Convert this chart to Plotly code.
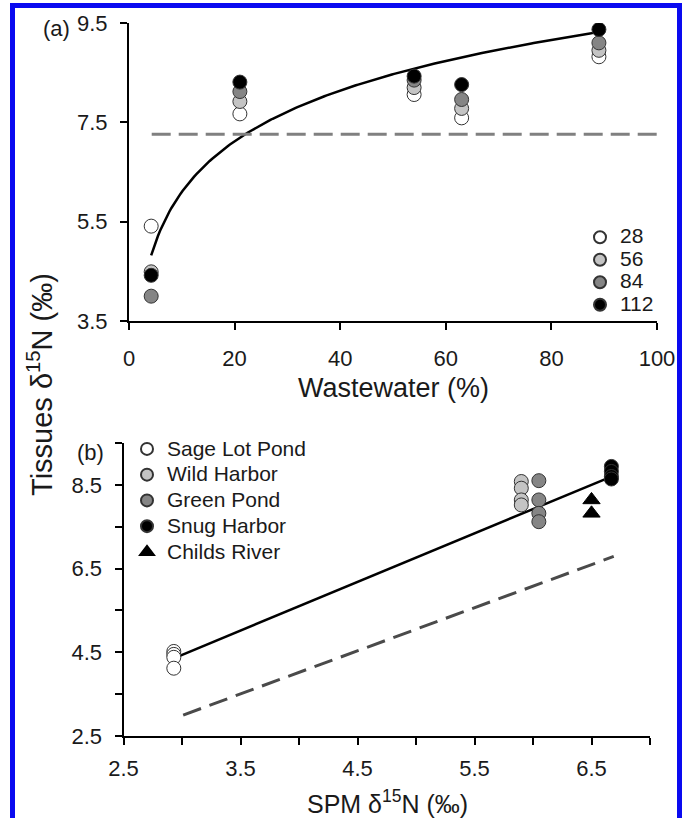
import numpy as np
import plotly.graph_objects as go

W, H = 688, 818

# ---------------- Panel (a) data ----------------
wastewater = [4.2, 21, 54, 63, 89]
day_labels = ["28", "56", "84", "112"]
d28 = [5.41, 7.67, 8.06, 7.59, 8.82]
d56 = [4.49, 7.92, 8.20, 7.78, 8.95]
d84 = [4.00, 8.12, 8.35, 7.96, 9.10]
d112 = [4.42, 8.31, 8.43, 8.26, 9.37]
log_fit_a, log_fit_b = 2.706, 1.473      # y = a + b ln(x)
log_fit_range = [4.2, 89]
ref_level_a = 7.26
ref_range_a = [4.3, 100]

# ---------------- Panel (b) data ----------------
sites = ["Sage Lot Pond", "Wild Harbor", "Green Pond", "Snug Harbor", "Childs River"]
sage_spm, sage_t = 2.93, [4.52, 4.45, 4.38, 4.12]
wild_spm, wild_t = 5.90, [8.58, 8.42, 8.14, 8.02]
green_spm, green_t = 6.05, [8.60, 8.14, 7.82, 7.62]
snug_spm, snug_t = 6.67, [8.94, 8.82, 8.70, 8.64]
childs_spm, childs_t = 6.50, [8.14, 7.82]
reg_x = [2.95, 6.67]
reg_slope, reg_int = 1.161, 0.955
dash_x = [3.01, 6.69]
dash_y = [3.00, 6.79]

FILL = ["white", "#c4c4c4", "#858585", "black"]
FONT = "Liberation Sans, Arial, Helvetica, sans-serif"
TXT = "#1a1a1a"


def px(p):
    return p / W


def py(p):
    return 1 - p / H


fig = go.Figure()

# Panel a curve and reference line
cx = np.linspace(log_fit_range[0], log_fit_range[1], 200)
fig.add_trace(go.Scatter(x=cx, y=log_fit_a + log_fit_b * np.log(cx), mode="lines",
                         line=dict(color="black", width=2.5), showlegend=False,
                         xaxis="x", yaxis="y"))
fig.add_trace(go.Scatter(x=ref_range_a, y=[ref_level_a, ref_level_a], mode="lines",
                         line=dict(color="#808080", width=3, dash="19px,8px"),
                         showlegend=False, xaxis="x", yaxis="y"))
for lab, vals, col in zip(day_labels, [d28, d56, d84, d112], FILL):
    fig.add_trace(go.Scatter(
        x=wastewater, y=vals, mode="markers", xaxis="x", yaxis="y",
        name='<span style="font-size:21px">%s</span>' % lab, legend="legend",
        marker=dict(size=14, color=col, line=dict(color="#333333", width=1)),
    ))

# Panel b lines
rx = np.array(reg_x)
fig.add_trace(go.Scatter(x=rx, y=reg_slope * rx + reg_int, mode="lines",
                         line=dict(color="black", width=2.5), showlegend=False,
                         xaxis="x2", yaxis="y2"))
fig.add_trace(go.Scatter(x=dash_x, y=dash_y, mode="lines",
                         line=dict(color="#4a4a4a", width=3, dash="19px,9px"),
                         showlegend=False, xaxis="x2", yaxis="y2"))
site_x = [sage_spm, wild_spm, green_spm, snug_spm]
site_y = [sage_t, wild_t, green_t, snug_t]
for name, sx, sy, col in zip(sites[:4], site_x, site_y, FILL):
    fig.add_trace(go.Scatter(
        x=[sx] * len(sy), y=sy, mode="markers", xaxis="x2", yaxis="y2",
        name='<span style="font-size:21px">%s</span>' % name, legend="legend2",
        marker=dict(size=14, color=col, line=dict(color="#333333", width=1)),
    ))
fig.add_trace(go.Scatter(
    x=[childs_spm] * len(childs_t), y=childs_t, mode="markers", xaxis="x2", yaxis="y2",
    name='<span style="font-size:21px">%s</span>' % sites[4], legend="legend2",
    marker=dict(size=15, color="black", symbol="triangle-up", line=dict(color="black", width=1)),
))

axis_common = dict(showline=True, linecolor="black", linewidth=2, ticks="outside",
                   ticklen=7, tickwidth=2, tickcolor="black", showgrid=False,
                   zeroline=False, automargin=False,
                   tickfont=dict(family=FONT, size=22, color=TXT))
minor_common = dict(ticks="outside", ticklen=7, tickwidth=2, tickcolor="black", showgrid=False)


def ann(text, x, y, size, angle=0):
    return dict(text=text, x=px(x), y=py(y), xref="paper", yref="paper",
                xanchor="center", yanchor="middle", showarrow=False, textangle=angle,
                font=dict(size=size, family=FONT, color=TXT))


fig.update_layout(
    template="none",
    width=W, height=H, autosize=False,
    margin=dict(l=0, r=0, t=0, b=0, pad=0),
    plot_bgcolor="white", paper_bgcolor="white",
    font=dict(family=FONT, color=TXT),
    xaxis=dict(axis_common, domain=[px(129), px(657)], range=[0, 100],
               tick0=0, dtick=20, anchor="y", ticklabelstandoff=10),
    yaxis=dict(axis_common, domain=[py(321), py(23)], range=[3.5, 9.5],
               tick0=3.5, dtick=2, tickformat=".1f", anchor="x", ticklabelstandoff=8),
    xaxis2=dict(axis_common, domain=[px(123.5), px(650)], range=[2.5, 7.0],
                tick0=2.5, dtick=1, tickformat=".1f",
                minor=dict(minor_common, tick0=2.5, dtick=0.5),
                anchor="y2", ticklabelstandoff=5),
    yaxis2=dict(axis_common, domain=[py(736), py(443)], range=[2.5, 9.5],
                tick0=2.5, dtick=2, tickformat=".1f",
                minor=dict(minor_common, tick0=2.5, dtick=1),
                anchor="x2", ticklabelstandoff=8),
    legend=dict(x=px(580), y=py(221), xanchor="left", yanchor="top",
                bgcolor="rgba(0,0,0,0)", font=dict(family=FONT, size=15, color=TXT),
                itemsizing="constant", tracegroupgap=0),
    legend2=dict(x=px(127), y=py(431), xanchor="left", yanchor="top",
                 bgcolor="rgba(0,0,0,0)", font=dict(family=FONT, size=17.5, color=TXT),
                 itemsizing="constant", tracegroupgap=0),
    annotations=[
        ann("Wastewater (%)", 393, 388, 27),
        ann("SPM δ<sup>15</sup>N (‰)", 387, 802, 25),
        ann("Tissues δ<sup>15</sup>N (‰)", 40, 385, 29, -90),
        ann("(a)", 57, 28, 22),
        ann("(b)", 90, 452, 22),
    ],
    shapes=[dict(type="rect", xref="paper", yref="paper",
                 x0=px(12.5), x1=px(679.5), y0=py(830), y1=py(5.5),
                 line=dict(color="#0a0af0", width=5), fillcolor="rgba(0,0,0,0)")],
)

fig.write_html("out.html", include_plotlyjs=True, config={"displayModeBar": False},
               post_script="document.body.style.margin='0';document.body.style.overflow='hidden';")
